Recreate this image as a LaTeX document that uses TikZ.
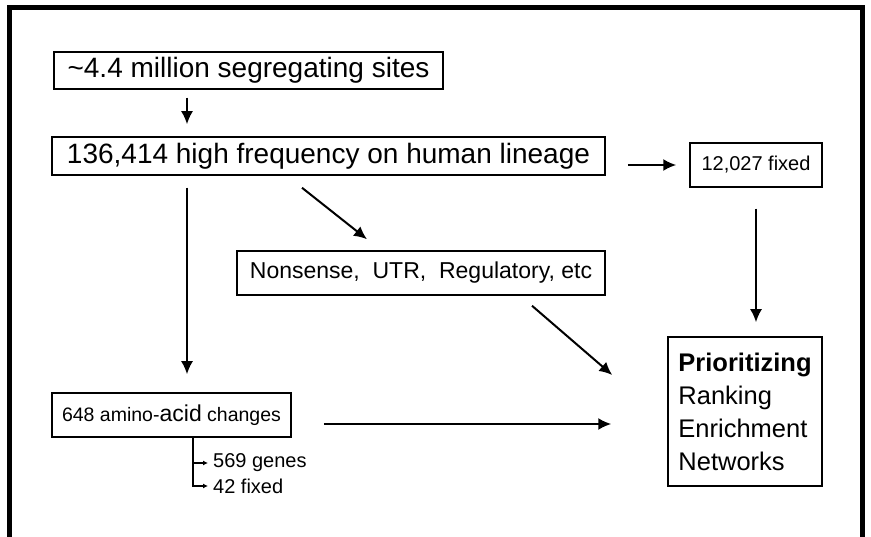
\documentclass[tikz,border=0pt]{standalone}
\usepackage{fontspec}
\setmainfont{Liberation Sans}
\usetikzlibrary{arrows.meta, positioning}

\newcommand{\fs}[1]{\fontsize{#1}{#1}\selectfont}

\tikzset{
  box/.style={draw, line width=1.5pt, inner sep=2pt},
  arr/.style={line width=2pt, -{Latex[length=13pt,width=12pt]}},
  tick/.style={line width=1.5pt, -{Latex[length=5pt,width=5pt]}},
  sub/.style={anchor=west, inner xsep=5pt, inner ysep=1pt, font=\fs{20}},
}

\begin{document}
\begin{tikzpicture}[x=1pt, y=-1pt]
    \useasboundingbox (0,0) rectangle (871,537);
    % Frame
    \draw[line width=5pt] (9.5,537) -- (9.5,7.5) -- (862,7.5) -- (862,537);

    % Draw the boxes
    \node[box, minimum width=389pt, minimum height=37pt, font=\fs{28}] (sites) at (248.5,70.5) {\textasciitilde 4.4 million segregating sites};
    \node[box, minimum width=553pt, minimum height=38pt, font=\fs{28}] (high) at (328.5,156) {136,414 high frequency on human lineage};
    \node[box, minimum width=132pt, minimum height=44pt, font=\fs{20}] (fixed) at (756,165) {12,027 fixed};
    \node[box, minimum width=368pt, minimum height=44pt, font=\fs{23}] (nonsense) at (421,273) {Nonsense,\ \ UTR,\ \ Regulatory, etc};
    \node[box, minimum width=239pt, minimum height=44pt, font=\fs{19.5}] (amino) at (171.5,415) {648 amino-{\fs{23}acid} changes};
    \node[box, minimum width=154pt, minimum height=149pt, align=left, font=\fontsize{25.5}{33}\selectfont] (prior) at (745,411.5) {\textbf{Prioritizing}\\Ranking\\Enrichment\\Networks};

    \node[sub] (genes)  at (208,463) {569 genes};
    \node[sub] (fixedb) at (208,486) {42 fixed};

    % Helper columns for the straight runs
    \coordinate (col) at (187,0);
    \coordinate (br)  at (193,0);

    % Connect the boxes with arrows
    \path[arr]
        (sites.south -| col) edge[shorten <=8pt, shorten >=12pt] (high.north -| col)
        (high.east |- fixed.west) edge[shorten <=22pt, shorten >=13pt] (fixed.west)
        (fixed.south) edge[shorten <=21pt, shorten >=14pt] (fixed.south |- prior.north)
        (high.south -| col) edge[shorten <=12pt, shorten >=18pt] (amino.north -| col)
        ([xshift=-26.5pt, yshift=-12pt]high.south) edge ([xshift=-54pt, yshift=11pt]nonsense.north)
        ([xshift=111pt, yshift=-10pt]nonsense.south) edge ([xshift=-55pt, yshift=36.5pt]prior.west)
        ([xshift=32pt, yshift=-9pt]amino.east) edge ([xshift=-56pt, yshift=-12.5pt]prior.west);

    \draw[tick] (amino.south -| br) |- (genes.west);
    \draw[tick] (amino.south -| br) |- (fixedb.west);
\end{tikzpicture}
\end{document}
